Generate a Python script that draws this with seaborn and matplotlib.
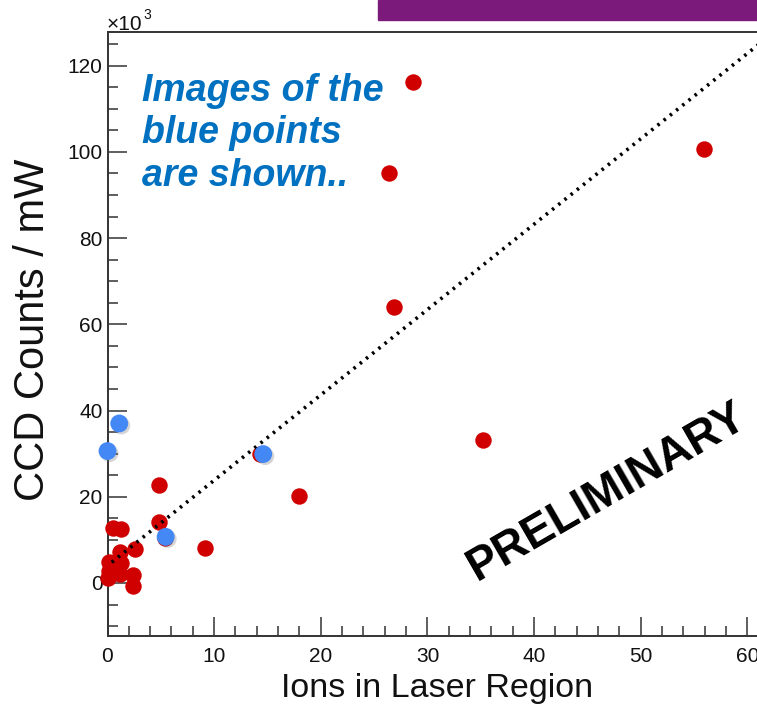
import matplotlib
matplotlib.use("Agg")
import matplotlib.pyplot as plt
import matplotlib.patheffects as pe
from matplotlib.ticker import MultipleLocator
import seaborn as sns
import pandas as pd

# ---- data (y in units of 10^3 counts / mW) ----
red_x = [0.0, 0.1, 0.1, 1.2, 1.3, 1.2, 2.6, 2.4, 2.4, 0.5, 1.3, 4.8, 4.8, 5.4,
         9.1, 14.3, 18.0, 26.4, 26.9, 28.6, 35.2, 55.9]
red_y = [1.2, 2.8, 4.8, 2.0, 4.6, 7.3, 7.8, 1.8, -0.6, 12.7, 12.6, 14.2, 22.7, 10.5,
         8.1, 29.8, 20.2, 95.1, 64.0, 116.2, 33.2, 100.7]
blue_x = [0.0, 1.1, 5.45, 14.6]
blue_y = [30.6, 37.0, 10.7, 29.9]
fit_x = [0.4, 61.5]
fit_y = [4.8, 125.8]

x_label = "Ions in Laser Region"
y_label = "CCD Counts / mW"
note_text = "Images of the\nblue points\nare shown.."
stamp_text = "PRELIMINARY"

sns.set_theme(style="white")
plt.rcParams["font.family"] = ["Liberation Sans", "DejaVu Sans"]

W, H = 757, 706
fig = plt.figure(figsize=(W / 100, H / 100), dpi=100)
L, R, T, B = 107.5, 757, 32, 636
ax = fig.add_axes([L / W, 1 - B / H, (R - L) / W, (B - T) / H])

red_df = pd.DataFrame({"x": red_x, "y": red_y})
blue_df = pd.DataFrame({"x": blue_x, "y": blue_y})
fit_df = pd.DataFrame({"x": fit_x, "y": fit_y})

sns.scatterplot(data=red_df, x="x", y="y", ax=ax, color="#D00000", s=140,
                linewidth=0, zorder=3, clip_on=False)
sns.lineplot(data=fit_df, x="x", y="y", ax=ax, color="black", linewidth=2.6,
             dashes=False, zorder=4)
ax.lines[-1].set_linestyle((0, (0.7, 1.5)))
sns.scatterplot(data=blue_df, x="x", y="y", ax=ax, color="#4488F5", s=165,
                linewidth=0, zorder=5, clip_on=False)
ax.collections[-1].set_path_effects([
    pe.SimplePatchShadow(offset=(1.5, -1.5), shadow_rgbFace="#777777", alpha=0.3),
    pe.Normal()])

ax.set_xlim(0, 60.9)
ax.set_ylim(-12.3, 127.8)
ax.xaxis.set_major_locator(MultipleLocator(10))
ax.xaxis.set_minor_locator(MultipleLocator(2))
ax.yaxis.set_major_locator(MultipleLocator(20))
ax.yaxis.set_minor_locator(MultipleLocator(5))

spine_c = "#333333"
for side in ["left", "bottom", "top"]:
    ax.spines[side].set_color(spine_c)
    ax.spines[side].set_linewidth(1.4)
ax.spines["right"].set_visible(False)

ax.tick_params(which="major", direction="in", length=13.5, width=1.1,
               color=spine_c, labelsize=15, labelcolor="#111111")
ax.tick_params(which="minor", direction="in", length=7, width=1.1, color=spine_c)
ax.tick_params(axis="x", which="both", bottom=True, top=False, pad=8)
ax.tick_params(axis="y", which="both", left=True, right=False, pad=3.5)

ax.set_xlabel(x_label, fontsize=24.5, color="#111111")
ax.set_ylabel(y_label, fontsize=30, color="#111111")
ax.xaxis.set_label_coords((437 - L) / (R - L), (B - 688) / (B - T))
ax.xaxis.label.set_va("center")
ax.yaxis.set_label_coords((33 - L) / (R - L), (B - 330) / (B - T))
ax.yaxis.label.set_va("center")

# multiplier
fig.text(107 / W, 1 - 30 / H, "×10", fontsize=15, color="#111111",
         ha="left", va="baseline")
fig.text(143 / W, 1 - 19 / H, "3", fontsize=10, color="#111111",
         ha="left", va="baseline")

# annotation text
fig.text(142 / W, 1 - 186 / H, note_text, fontsize=27, color="#0070C0",
         fontweight="bold", fontstyle="italic", ha="left", va="baseline",
         linespacing=1.24)

# PRELIMINARY stamp
fig.text(607 / W, 1 - 492 / H, stamp_text, fontsize=33, fontweight="bold",
         color="black", rotation=30, ha="center", va="center",
         rotation_mode="anchor")

# purple banner at top
fig.patches.append(plt.Rectangle((378 / W, 1 - 20 / H), (757 - 378) / W, 20 / H,
                                 transform=fig.transFigure, color="#7B1A7A",
                                 zorder=10))

fig.savefig("out.png", dpi=100)
